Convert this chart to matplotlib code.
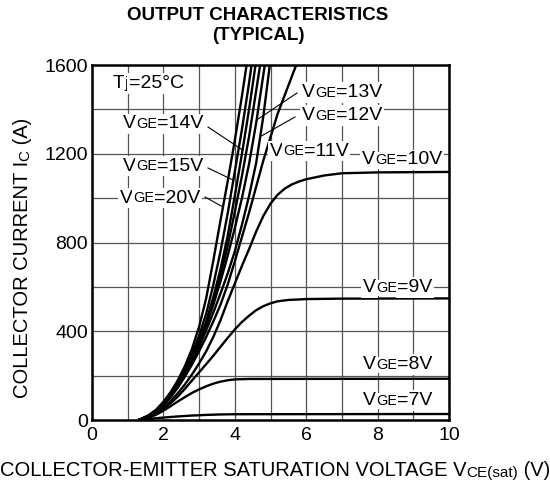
import matplotlib
matplotlib.use("Agg")
import matplotlib.pyplot as plt
import numpy as np

plt.rcParams['font.family'] = ['Liberation Sans', 'DejaVu Sans']

# ---------------- data ----------------
v7 = [1.3, 1.4, 1.6, 1.8, 2.0, 2.4, 2.8, 3.2, 3.6, 4.0, 10.0]
i7 = [0, 2, 5, 8, 11, 16, 20, 23, 25, 26, 27]

v8 = [1.3, 1.4, 1.6, 1.8, 2.0, 2.2, 2.4, 2.6, 2.8, 3.0, 3.2, 3.4, 3.6, 3.8, 4.0, 4.4, 10.0]
i8 = [0, 3, 11, 24, 42, 62, 83, 103, 122, 138, 152, 164, 173, 179, 183, 185, 186]

v9 = [1.3, 1.4, 1.6, 1.8, 2.0, 2.2, 2.4, 2.6, 2.8, 3.0, 3.2, 3.4, 3.6, 3.8, 4.0, 4.2, 4.4,
      4.6, 4.8, 5.0, 5.2, 5.5, 6.0, 7.0, 10.0]
i9 = [0, 4, 14, 30, 50, 75, 105, 140, 178, 215, 252, 290, 330, 370, 408, 442, 470,
      495, 513, 526, 535, 541, 545, 547, 548]

v10 = [1.3, 1.4, 1.6, 1.8, 2.0, 2.2, 2.4, 2.6, 2.8, 3.0, 3.2, 3.4, 3.6, 3.8, 4.0, 4.2, 4.4,
       4.6, 4.8, 5.0, 5.2, 5.4, 5.6, 5.8, 6.0, 6.5, 7.0, 8.0, 10.0]
i10 = [0, 4, 15, 32, 55, 85, 120, 160, 205, 255, 310, 375, 450, 535, 615, 695, 770,
       850, 920, 975, 1015, 1043, 1062, 1075, 1085, 1102, 1112, 1116, 1118]

v11 = [1.3, 1.4, 1.6, 1.8, 2.0, 2.2, 2.4, 2.6, 2.8, 3.0, 3.2, 3.4, 3.6, 3.8, 4.0, 4.4, 4.8, 5.2, 5.72]
i11 = [0, 5, 18, 38, 67, 102, 145, 195, 250, 310, 375, 445, 520, 610, 715, 935, 1170, 1380, 1600]

v12 = [1.3, 1.4, 1.6, 1.8, 2.0, 2.2, 2.4, 2.6, 2.8, 3.0, 3.2, 3.4, 3.6, 3.8, 4.0, 4.2, 4.4, 4.6, 4.8, 4.98]
i12 = [0, 5, 19, 39, 69, 105, 150, 202, 262, 330, 405, 485, 570, 660, 760, 880, 1010, 1160, 1370, 1600]

v13 = [1.3, 1.4, 1.6, 1.8, 2.0, 2.2, 2.4, 2.6, 2.8, 3.0, 3.2, 3.4, 3.6, 3.8, 4.0, 4.2, 4.4, 4.6, 4.84]
i13 = [0, 5, 19, 40, 71, 108, 154, 208, 270, 342, 425, 520, 625, 740, 865, 1000, 1155, 1340, 1600]

# unlabeled curve drawn between the 14 V and 13 V curves in the reference
v_x = [1.3, 1.4, 1.6, 1.8, 2.0, 2.2, 2.4, 2.6, 2.8, 3.0, 3.2, 3.4, 3.6, 3.8, 4.0, 4.2, 4.4, 4.71]
i_x = [0, 5, 19, 41, 72, 110, 156, 210, 274, 348, 435, 538, 652, 785, 938, 1100, 1278, 1600]

v14 = [1.3, 1.4, 1.6, 1.8, 2.0, 2.2, 2.4, 2.6, 2.8, 3.0, 3.2, 3.4, 3.6, 3.8, 4.0, 4.2, 4.4, 4.58]
i14 = [0, 6, 20, 42, 73, 111, 158, 213, 278, 355, 445, 555, 680, 830, 1010, 1200, 1400, 1600]

v15 = [1.3, 1.4, 1.6, 1.8, 2.0, 2.2, 2.4, 2.6, 2.8, 3.0, 3.2, 3.4, 3.6, 3.8, 4.0, 4.2, 4.4, 4.47]
i15 = [0, 6, 21, 44, 77, 117, 166, 225, 295, 380, 480, 610, 760, 930, 1120, 1310, 1520, 1600]

v20 = [1.3, 1.4, 1.6, 1.8, 2.0, 2.2, 2.4, 2.6, 2.8, 3.0, 3.2, 3.4, 3.6, 3.8, 4.0, 4.2, 4.33]
i20 = [0, 7, 23, 47, 82, 125, 178, 242, 320, 420, 550, 720, 900, 1075, 1260, 1460, 1600]

curves = {7: (v7, i7), 8: (v8, i8), 9: (v9, i9), 10: (v10, i10), 11: (v11, i11),
          12: (v12, i12), 13: (v13, i13), 'x': (v_x, i_x), 14: (v14, i14),
          15: (v15, i15), 20: (v20, i20)}

x_ticks = [0, 2, 4, 6, 8, 10]
y_ticks = [0, 400, 800, 1200, 1600]

# ---------------- figure ----------------
W, H = 550, 494
fig = plt.figure(figsize=(W / 100, H / 100), dpi=100)
L, R, T, B = 92, 449, 65, 420
ax = fig.add_axes([L / W, 1 - B / H, (R - L) / W, (B - T) / H])

ax.set_xlim(0, 10)
ax.set_ylim(0, 1600)
ax.set_xticks(x_ticks)
ax.set_yticks(y_ticks)
ax.set_xticks(np.arange(0, 11, 1), minor=True)
ax.set_yticks(np.arange(0, 1601, 200), minor=True)
ax.tick_params(which='both', length=0)
ax.tick_params(axis='x', labelsize=14, pad=5)
ax.tick_params(axis='y', labelsize=14, pad=3)
ax.grid(which='both', color='#555555', lw=0.9, zorder=0)
ax.set_axisbelow(True)
for s in ax.spines.values():
    s.set_linewidth(1.8)
    s.set_zorder(6)

for k, (v, i) in curves.items():
    ax.plot(v, i, color='black', lw=1.7, zorder=3, solid_capstyle='butt')

BG = dict(boxstyle='square,pad=0.08', fc='white', ec='none')


def chain(parts, x, y, transform, target, bg=True, rotation=0, first_ha='left',
          first_va='center'):
    """Draw text chunks (text, size, dy_points) one after another."""
    kw0 = dict(fontsize=parts[0][1], ha=first_ha, va=first_va, rotation=rotation,
               transform=transform, zorder=5)
    if bg:
        kw0['bbox'] = BG
    prev = target.text(x, y, parts[0][0], **kw0)
    prev_dy = parts[0][2]
    for txt, size, dy in parts[1:]:
        rel = dy - prev_dy
        if rotation == 0:
            kw = dict(xy=(1, 0), ha='left', va='bottom', xytext=(0, rel))
        else:
            kw = dict(xy=(1, 1), ha='right', va='bottom', xytext=(-rel, 0))
        if bg:
            kw['bbox'] = BG
        prev = ax.annotate(txt, xycoords=prev, textcoords='offset points',
                           fontsize=size, rotation=rotation,
                           annotation_clip=False, zorder=5, **kw)
        prev_dy = dy
    return prev


BIG, SMALL = 14, 10.5


def px2data(px, py):
    return ((px - L) / (R - L) * 10, (B - py) / (B - T) * 1600)


def vge(n):
    return [("V", BIG, 0), ("GE", SMALL, 0.8), ("=%dV" % n, BIG, 0)]


labels = [  # (vge, left px, center py)
    (20, 120, 198), (15, 123, 166), (14, 123, 124),
    (13, 302, 92.5), (12, 302, 115.5), (11, 270, 151),
    (10, 362, 160), (9, 363, 287.5), (8, 363, 364.5), (7, 363, 400.5)]
for n, px, py in labels:
    x, y = px2data(px, py)
    chain(vge(n), x, y, ax.transData, ax)

x, y = px2data(113, 83.5)
chain([("T", BIG, 0), ("j", 12, 0.6), ("=25°C", BIG, 0)], x, y, ax.transData, ax)

# pointer lines: (vge, start px, start py, current level on the curve)
pointers = [(14, 208, 127, 1217), (15, 208, 168, 1081), (20, 205, 197, 960),
            (13, 297, 93, 1352), (12, 295, 117, 1277)]
for n, px, py, lev in pointers:
    v, i = curves[n]
    xe = np.interp(lev, i, v)
    xs, ys = px2data(px, py)
    ax.plot([xs, xe], [ys, lev], color='black', lw=0.8, zorder=4)

# title
fig.text(258 / W, 1 - 15.5 / H, "OUTPUT CHARACTERISTICS", ha='center', va='center',
         fontsize=13.5, fontweight='bold')
fig.text(258 / W, 1 - 35 / H, "(TYPICAL)", ha='center', va='center',
         fontsize=13.5, fontweight='bold')

# axis labels
chain([("COLLECTOR-EMITTER SATURATION VOLTAGE V", 14.5, 0), ("CE(sat)", 11, 0),
       (" (V)", 14.5, 0)],
      0 / W, 1 - 470 / H, fig.transFigure, fig, bg=False)
chain([("COLLECTOR CURRENT I", 14.5, 0), ("C", 11, 0), (" (A)", 14.5, 0)],
      23 / W, 1 - 398 / H, fig.transFigure, fig, bg=False, rotation=90,
      first_ha='center', first_va='bottom')

fig.savefig("out.png", dpi=100)
